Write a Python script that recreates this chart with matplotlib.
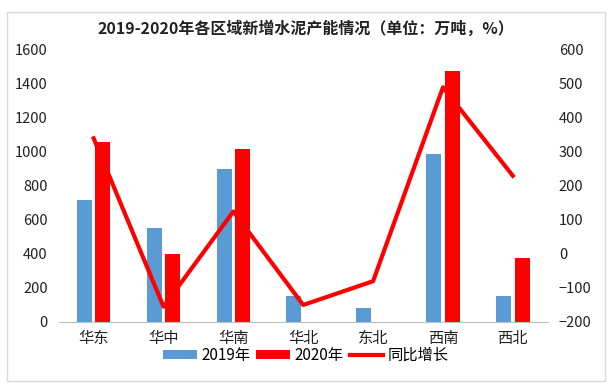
import matplotlib
matplotlib.use("Agg")
import matplotlib.pyplot as plt
import numpy as np
from matplotlib.patches import Rectangle

plt.rcParams['font.family'] = ['Noto Sans CJK SC', 'DejaVu Sans']

categories = ['华东', '华中', '华南', '华北', '东北', '西南', '西北']
v2019 = [720, 550, 900, 150, 80, 985, 150]
v2020 = [1060, 400, 1020, 0, 0, 1475, 375]
growth = [340, -155, 125, -150, -80, 490, 230]

fig = plt.figure(figsize=(6.12, 3.87), dpi=100)
ax = fig.add_axes([0.096, 0.168, 0.799, 0.703])
ax2 = ax.twinx()

x = np.arange(len(categories))
w = 0.215
gap = 0.05
ax.bar(x - (w + gap) / 2, v2019, width=w, color='#5B9BD5', label='2019年', zorder=2)
ax.bar(x + (w + gap) / 2, v2020, width=w, color='#FF0000', label='2020年', zorder=2)
ax2.plot(x, growth, color='#FF0000', lw=3, label='同比增长', zorder=3)

ax.set_xlim(-0.5, len(categories) - 0.5)
ax.set_ylim(0, 1600)
ax.set_yticks(np.arange(0, 1601, 200))
ax2.set_ylim(-200, 600)
ax2.set_yticks(np.arange(-200, 601, 100))
ax.set_xticks(x)
ax.set_xticklabels(categories, fontsize=11)

for a in (ax, ax2):
    for s in ['top', 'left', 'right']:
        a.spines[s].set_visible(False)
    a.spines['bottom'].set_visible(False)
    a.tick_params(length=0, labelsize=10.5, colors='#222222')
ax.spines['bottom'].set_visible(True)
ax.spines['bottom'].set_color('#BFBFBF')
ax.tick_params(axis='y', pad=8)
ax2.tick_params(axis='y', pad=8)
ax.tick_params(axis='x', pad=6, labelsize=11)

fig.text(0.5, 0.925, '2019-2020年各区域新增水泥产能情况（单位：万吨，%）',
         ha='center', va='center', fontsize=11.5, fontweight='bold', color='#222222')

h1, l1 = ax.get_legend_handles_labels()
h2, l2 = ax2.get_legend_handles_labels()
fig.legend(h1 + h2, l1 + l2, loc='center', bbox_to_anchor=(0.5, 0.082), ncol=3,
           frameon=False, fontsize=11, handlelength=2.2, handleheight=0.6,
           columnspacing=0.4, handletextpad=0.3)

fig.patches.append(Rectangle((0.012, 0.015), 0.976, 0.955, transform=fig.transFigure,
                             fill=False, edgecolor='#D9D9D9', lw=1))

fig.savefig('out.png', dpi=100)
